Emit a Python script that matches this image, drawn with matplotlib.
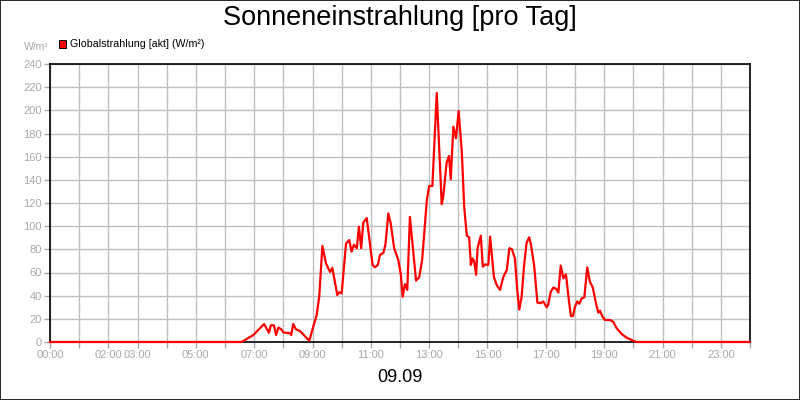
import matplotlib
matplotlib.use("Agg")
import matplotlib.pyplot as plt
from matplotlib.patches import Rectangle

plt.rcParams['font.family'] = ['Liberation Sans', 'DejaVu Sans']

# time of day in hours
hours = [0.0, 6.57, 6.97, 7.34, 7.51, 7.57, 7.68, 7.75, 7.83, 7.92, 8.0, 8.23, 8.27,
         8.34, 8.43, 8.57, 8.89, 9.01, 9.14, 9.23, 9.34, 9.46, 9.60, 9.68, 9.85, 9.92,
         10.0, 10.15, 10.26, 10.34, 10.42, 10.52, 10.59, 10.67, 10.74, 10.86, 10.97,
         11.06, 11.14, 11.24, 11.31, 11.43, 11.50, 11.60, 11.68, 11.80, 11.94, 12.03,
         12.09, 12.17, 12.25, 12.34, 12.46, 12.55, 12.66, 12.76, 12.92, 13.0, 13.11,
         13.26, 13.43, 13.48, 13.60, 13.68, 13.74, 13.83, 13.92, 14.01, 14.12, 14.20,
         14.29, 14.37, 14.43, 14.49, 14.54, 14.61, 14.66, 14.77, 14.84, 14.92, 15.03,
         15.09, 15.22, 15.32, 15.43, 15.54, 15.66, 15.75, 15.84, 15.94, 16.02, 16.09,
         16.17, 16.25, 16.34, 16.43, 16.49, 16.60, 16.71, 16.82, 16.91, 17.03, 17.08,
         17.17, 17.26, 17.35, 17.43, 17.51, 17.60, 17.69, 17.79, 17.86, 17.93, 18.0,
         18.08, 18.15, 18.23, 18.32, 18.42, 18.51, 18.61, 18.72, 18.80, 18.86, 18.94,
         19.03, 19.20, 19.31, 19.43, 19.60, 19.77, 20.0, 20.11, 24.0]

# Globalstrahlung in W/m²
values = [0, 0, 6, 15.5, 8, 14.4, 14.4, 6, 12.4, 11.2, 8.3, 7.5, 6,
          15.5, 11, 9.5, 1.1, 11.8, 23, 39, 83, 68, 60.5, 64, 40.6, 43,
          42, 85, 88, 78, 84, 81, 99.5, 81, 103, 107, 85,
          66.5, 64.5, 66.5, 75, 77, 84, 111, 102.5, 81, 71, 58,
          39, 50, 45, 108, 76.5, 53, 56, 71, 122.6, 134.7, 134.7,
          215, 119, 125, 155, 160.6, 140.5, 186, 176, 199.4, 164, 117,
          91.8, 90.5, 66.5, 72, 70, 58, 81, 91.8, 65, 67, 66.5,
          91, 56, 49, 45, 56, 62, 81, 80, 72, 45, 28,
          39, 65, 85.7, 90.4, 84, 66, 34, 33.5, 35, 30, 32,
          43.4, 47, 46, 42.6, 66, 55, 58.4, 36, 22.4, 22.4, 30.5,
          35, 33, 37.7, 38.5, 64.5, 52, 47, 33.4, 25.3, 27, 21.9,
          19, 19, 17.5, 11.8, 6.9, 3.7, 1.1, 0, 0]

hour_ticks = list(range(0, 25))
hour_labels = ['00:00', '', '02:00', '03:00', '', '05:00', '', '07:00', '', '09:00', '',
               '11:00', '', '13:00', '', '15:00', '', '17:00', '', '19:00', '', '21:00',
               '', '23:00', '']
y_ticks = list(range(0, 241, 20))

title = 'Sonneneinstrahlung [pro Tag]'
date_label = '09.09'
legend_label = 'Globalstrahlung [akt] (W/m²)'
unit_label = 'W/m²'

fig = plt.figure(figsize=(8, 4), dpi=100)
fig.patch.set_facecolor('white')
fig.add_artist(Rectangle((0.0006, 0.0012), 0.9988, 0.9976, transform=fig.transFigure,
                         fill=False, edgecolor='black', linewidth=1.2))

ax = fig.add_axes([50 / 800, 1 - 342 / 400, 700 / 800, (342 - 64) / 400])
ax.plot(hours, values, color='#FF0000', linewidth=1.6, zorder=5, clip_on=False,
        solid_joinstyle='round')
ax.set_xlim(0, 24)
ax.set_ylim(0, 240)
ax.set_xticks(hour_ticks)
ax.set_xticklabels(hour_labels)
ax.set_yticks(y_ticks)
ax.grid(True, color='#C0C0C0', linewidth=1.0)
ax.set_axisbelow(True)
for s in ax.spines.values():
    s.set_color('black')
    s.set_linewidth(1.2)
ax.tick_params(axis='both', colors='#A8A8A8', labelsize=8, length=4, width=1,
               direction='out', pad=2)

fig.text(0.5, 1 - 18 / 400, title, ha='center', va='center', fontsize=19.5)
fig.text(0.5, 1 - 378 / 400, date_label, ha='center', va='center', fontsize=13)
fig.text(36 / 800, 1 - 47 / 400, unit_label, ha='center', va='center', fontsize=7.5,
         color='#A8A8A8')
fig.add_artist(Rectangle((59 / 800, 1 - 48 / 400), 7 / 800, 8 / 400,
                         transform=fig.transFigure, facecolor='#FF0000',
                         edgecolor='black', linewidth=0.7))
fig.text(70 / 800, 1 - 44 / 400, legend_label, ha='left', va='center', fontsize=7.7)

fig.savefig('out.png', dpi=100)
